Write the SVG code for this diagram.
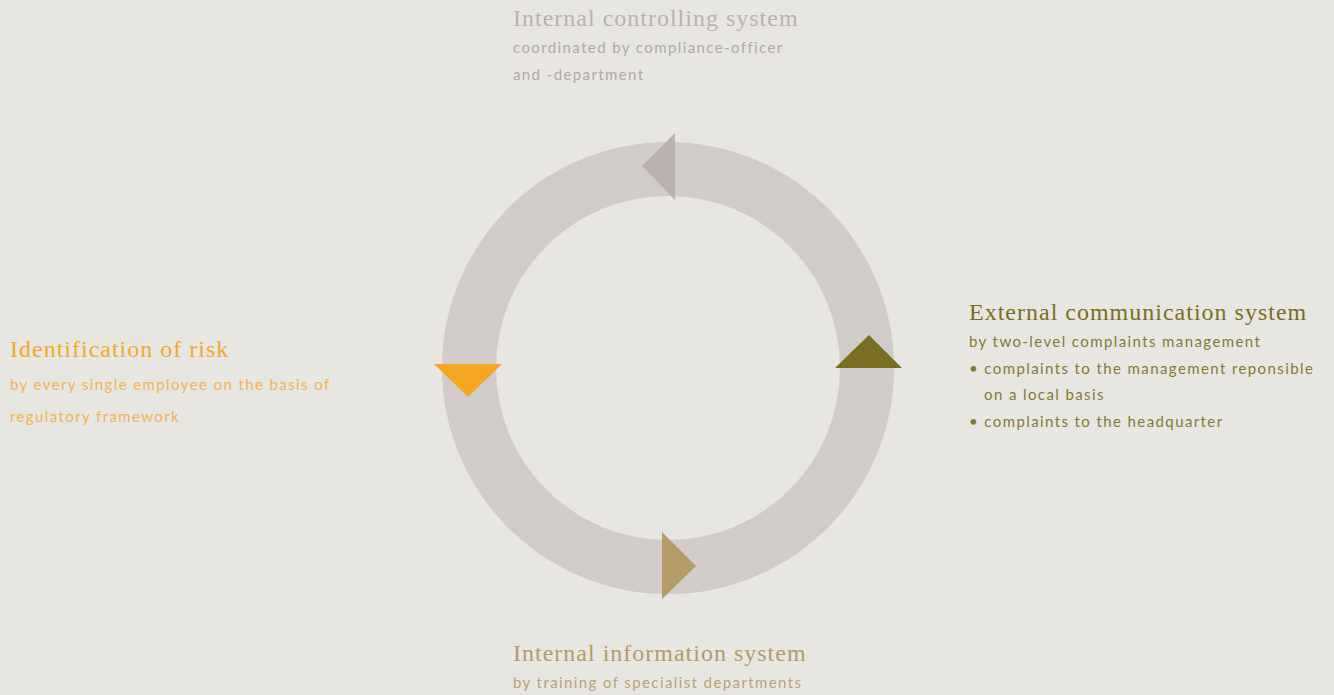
<svg xmlns="http://www.w3.org/2000/svg" width="1334" height="695" viewBox="0 0 1334 695">
  <style>
    .head { font-family: "Liberation Serif", "DejaVu Serif", serif; font-size: 24px; letter-spacing: 1px; }
    .sub { font-family: "Lato", "Open Sans", sans-serif; font-size: 15px; letter-spacing: 1.4px; }
    .grey { fill: #b9b3af; }
    .grey-s { fill: #b0aaa6; }
    .olive { fill: #7a6e22; }
    .olive-s { fill: #857a34; }
    .amber { fill: #f5a82a; }
    .amber-s { fill: #f4b24f; }
    .sand { fill: #b39c66; }
    .sand-s { fill: #b9a474; }
  </style>
  <rect width="1334" height="695" fill="#e8e6e1"/>

  <!-- cycle ring -->
  <g id="connectors">
    <circle cx="668" cy="368" r="199" fill="none" stroke="#d1ccc9" stroke-width="54"/>
    <polygon points="675,133 675,200 642,166" fill="#bab2ae"/>
    <polygon points="835,368 902,368 869,335" fill="#7a6e22"/>
    <polygon points="434,364 502,364 468,397" fill="#f5a623"/>
    <polygon points="662,532 662,599 696,566" fill="#b39c66"/>
  </g>

  <g id="internal-controlling">
    <text class="head grey" x="513" y="26">Internal controlling system</text>
    <text class="sub grey-s" x="513" y="53">coordinated by compliance-officer</text>
    <text class="sub grey-s" x="513" y="80">and -department</text>
  </g>

  <g id="external-communication">
    <text class="head olive" x="969" y="320">External communication system</text>
    <text class="sub olive-s" x="969" y="347">by two-level complaints management</text>
    <text class="sub olive-s" x="969" y="374">• complaints to the management reponsible</text>
    <text class="sub olive-s" x="984" y="400">on a local basis</text>
    <text class="sub olive-s" x="969" y="427">• complaints to the headquarter</text>
  </g>

  <g id="identification-of-risk">
    <text class="head amber" x="10" y="357">Identification of risk</text>
    <text class="sub amber-s" x="10" y="390">by every single employee on the basis of</text>
    <text class="sub amber-s" x="10" y="422">regulatory framework</text>
  </g>

  <g id="internal-information">
    <text class="head sand" x="513" y="661">Internal information system</text>
    <text class="sub sand-s" x="513" y="688">by training of specialist departments</text>
  </g>
</svg>
